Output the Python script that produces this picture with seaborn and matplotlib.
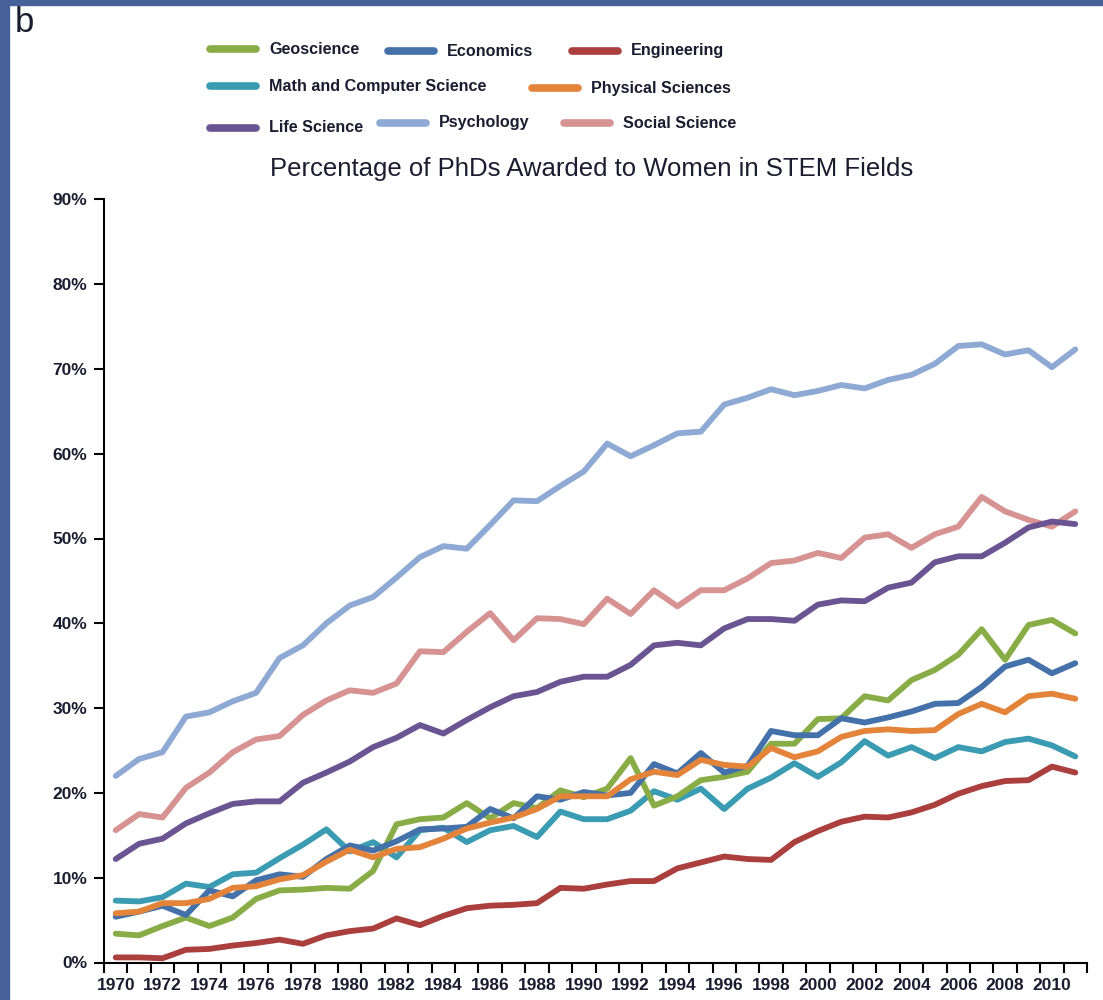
import matplotlib
matplotlib.use("Agg")
import matplotlib.pyplot as plt
from matplotlib.lines import Line2D
from matplotlib.patches import Rectangle
from matplotlib.ticker import FixedLocator, FuncFormatter
import pandas as pd
import seaborn as sns

years = list(range(1970, 2012))

geoscience = [3.4, 3.2, 4.3, 5.3, 4.3, 5.3, 7.5, 8.5, 8.6, 8.8, 8.7, 10.8, 16.3, 16.9,
              17.1, 18.8, 17.0, 18.8, 18.2, 20.3, 19.5, 20.5, 24.1, 18.5, 19.6, 21.5,
              21.9, 22.5, 25.8, 25.8, 28.7, 28.8, 31.4, 30.9, 33.3, 34.5, 36.3, 39.3,
              35.7, 39.8, 40.4, 38.8]
economics = [5.4, 6.0, 6.7, 5.6, 8.5, 7.8, 9.7, 10.4, 10.1, 12.2, 13.8, 13.2, 14.3, 15.7,
             15.8, 16.0, 18.1, 17.0, 19.6, 19.2, 20.1, 19.7, 20.0, 23.4, 22.3, 24.7,
             22.4, 23.2, 27.3, 26.8, 26.8, 28.8, 28.3, 28.9, 29.6, 30.5, 30.6, 32.5,
             34.9, 35.7, 34.1, 35.3]
engineering = [0.6, 0.6, 0.5, 1.5, 1.6, 2.0, 2.3, 2.7, 2.2, 3.2, 3.7, 4.0, 5.2, 4.4,
               5.5, 6.4, 6.7, 6.8, 7.0, 8.8, 8.7, 9.2, 9.6, 9.6, 11.1, 11.8, 12.5, 12.2,
               12.1, 14.2, 15.5, 16.6, 17.2, 17.1, 17.7, 18.6, 19.9, 20.8, 21.4, 21.5,
               23.1, 22.4]
math_cs = [7.3, 7.2, 7.7, 9.3, 8.9, 10.4, 10.6, 12.3, 13.9, 15.7, 13.1, 14.2, 12.4, 15.6,
           15.9, 14.2, 15.6, 16.1, 14.8, 17.8, 16.9, 16.9, 17.9, 20.2, 19.2, 20.5, 18.1,
           20.5, 21.8, 23.5, 21.9, 23.6, 26.1, 24.4, 25.4, 24.1, 25.4, 24.9, 26.0, 26.4,
           25.6, 24.3]
physical = [5.8, 6.0, 7.0, 7.0, 7.5, 8.8, 9.0, 9.8, 10.3, 11.9, 13.3, 12.4, 13.4, 13.6,
            14.6, 15.8, 16.5, 17.1, 18.1, 19.6, 19.6, 19.6, 21.6, 22.5, 22.1, 23.9, 23.3,
            23.1, 25.3, 24.2, 24.9, 26.6, 27.3, 27.5, 27.3, 27.4, 29.3, 30.5, 29.5, 31.4,
            31.7, 31.1]
life_science = [12.2, 14.0, 14.6, 16.4, 17.6, 18.7, 19.0, 19.0, 21.2, 22.4, 23.7, 25.4,
                26.5, 28.0, 27.0, 28.6, 30.1, 31.4, 31.9, 33.1, 33.7, 33.7, 35.1, 37.4,
                37.7, 37.4, 39.4, 40.5, 40.5, 40.3, 42.2, 42.7, 42.6, 44.2, 44.8, 47.2,
                47.9, 47.9, 49.5, 51.3, 52.0, 51.7]
psychology = [22.0, 24.0, 24.8, 29.0, 29.5, 30.8, 31.8, 35.9, 37.4, 40.0, 42.1, 43.1,
              45.4, 47.8, 49.1, 48.8, 51.6, 54.5, 54.4, 56.2, 57.9, 61.2, 59.7, 61.0,
              62.4, 62.6, 65.8, 66.6, 67.6, 66.9, 67.4, 68.1, 67.7, 68.7, 69.3, 70.6,
              72.7, 72.9, 71.7, 72.2, 70.2, 72.3]
social_science = [15.6, 17.5, 17.1, 20.6, 22.4, 24.8, 26.3, 26.7, 29.2, 30.9, 32.1, 31.8,
                  32.9, 36.7, 36.6, 39.0, 41.2, 38.0, 40.6, 40.5, 39.9, 42.9, 41.1, 43.9,
                  42.0, 43.9, 43.9, 45.3, 47.1, 47.4, 48.3, 47.7, 50.1, 50.5, 48.9, 50.5,
                  51.4, 54.9, 53.2, 52.2, 51.4, 53.2]

fields = ["Psychology", "Social Science", "Life Science", "Engineering",
          "Math and Computer Science", "Geoscience", "Economics", "Physical Sciences"]
series = [psychology, social_science, life_science, engineering,
          math_cs, geoscience, economics, physical]
colors = {
    "Geoscience": "#88ad46",
    "Economics": "#4471a9",
    "Engineering": "#aa3f3d",
    "Math and Computer Science": "#3b9bb2",
    "Physical Sciences": "#e3843a",
    "Life Science": "#6a5492",
    "Psychology": "#8eaad4",
    "Social Science": "#d69391",
}

df = pd.DataFrame({
    "year": years * len(fields),
    "pct": sum(series, []),
    "field": [f for f in fields for _ in years],
})

sns.set_style("white")
plt.rcParams["font.family"] = ["Liberation Sans", "DejaVu Sans"]
txt = "#1c1c30"

fig = plt.figure(figsize=(11.03, 10), dpi=100)
ax = fig.add_axes([0.0943, 0.0375, 0.8912, 0.7632])

sns.lineplot(data=df, x="year", y="pct", hue="field", hue_order=fields,
             palette=colors, linewidth=4.2, legend=False, ax=ax,
             solid_capstyle="round", solid_joinstyle="round")

ax.set_xlim(1969.5, 2011.5)
ax.set_ylim(0, 90)
ax.set_yticks(range(0, 91, 10))
ax.yaxis.set_major_formatter(FuncFormatter(lambda v, p: f"{int(v)}%"))
ax.xaxis.set_major_locator(FixedLocator([y - 0.5 for y in years] + [2011.5]))
ax.xaxis.set_minor_locator(FixedLocator(list(range(1970, 2011, 2))))
ax.xaxis.set_major_formatter(FuncFormatter(lambda v, p: ""))
ax.xaxis.set_minor_formatter(FuncFormatter(lambda v, p: str(int(v))))
ax.tick_params(axis="x", which="major", direction="out", length=7, width=1.5,
               color="black", bottom=True)
ax.tick_params(axis="x", which="minor", length=0, labelsize=12.5, labelcolor=txt, pad=11)
ax.tick_params(axis="y", direction="out", length=7, width=1.5, color="black",
               left=True, labelsize=12.5, labelcolor=txt, pad=5)
for lab in ax.get_yticklabels() + ax.get_xticklabels(minor=True):
    lab.set_fontweight("bold")
ax.set_xlabel("")
ax.set_ylabel("")
sns.despine(ax=ax)
for s in ["left", "bottom"]:
    ax.spines[s].set_color("black")
    ax.spines[s].set_linewidth(1.5)
ax.spines["left"].set_bounds(0, 90)

fig.text(0.536, 0.831, "Percentage of PhDs Awarded to Women in STEM Fields",
         ha="center", va="center", fontsize=18.5, color=txt)
fig.text(0.013, 0.977, "b", ha="left", va="center", fontsize=25, color=txt)

# legend laid out like the original (three loose rows)
legend_items = [
    ("Geoscience", 210, 49), ("Economics", 388, 51), ("Engineering", 572, 51),
    ("Math and Computer Science", 210, 86), ("Physical Sciences", 532, 88),
    ("Life Science", 210, 128), ("Psychology", 380, 123), ("Social Science", 564, 123),
]
W, H = 1103, 1000
for name, px, py in legend_items:
    fig.add_artist(Line2D([px / W, (px + 46) / W], [1 - py / H, 1 - py / H],
                          color=colors[name], linewidth=5.5, solid_capstyle="round",
                          transform=fig.transFigure))
    fig.text((px + 59) / W, 1 - py / H, name, ha="left", va="center",
             fontsize=11.6, fontweight="bold", color=txt)

# dark blue frame at top and left
fig.add_artist(Rectangle((0, 0.995), 1, 0.005, color="#44619a",
                         transform=fig.transFigure, zorder=0))
fig.add_artist(Rectangle((0, 0), 0.008, 1, color="#46619a",
                         transform=fig.transFigure, zorder=0))

fig.savefig("out.png", dpi=100)
